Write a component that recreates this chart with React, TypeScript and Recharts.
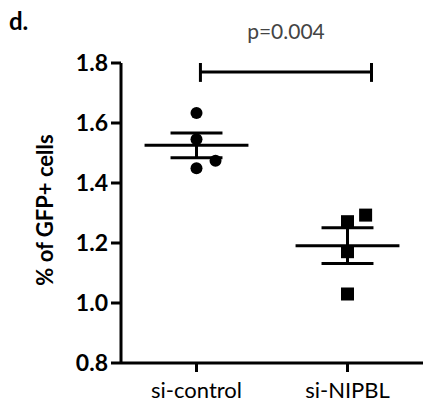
import { ComposedChart, Scatter, XAxis, YAxis, ReferenceLine } from 'recharts';

const GROUPS = ['si-control', 'si-NIPBL'];
const CONTROL_X = [1, 1, 1.126, 1];
const CONTROL_Y = [1.633, 1.546, 1.474, 1.449];
const NIPBL_X = [2.12, 2, 2, 2];
const NIPBL_Y = [1.293, 1.271, 1.171, 1.03];
const Y_TICKS = [0.8, 1.0, 1.2, 1.4, 1.6, 1.8];
const P_TEXT = 'p=0.004';
const SIG_BAR = { x1: 1.026, x2: 2.159, y: 1.77, capTop: 1.8, capBottom: 1.737 };

const FONT = 'Lato, "Open Sans", sans-serif';

const pts = (xs: number[], ys: number[]) => xs.map((x, i) => ({ x, y: ys[i] }));

function stats(ys: number[]) {
  const n = ys.length;
  const mean = ys.reduce((a, b) => a + b, 0) / n;
  const sd = Math.sqrt(ys.reduce((a, b) => a + (b - mean) ** 2, 0) / (n - 1));
  return { mean, sem: sd / Math.sqrt(n) };
}

const SUMMARY = [
  { pos: 1, ...stats(CONTROL_Y) },
  { pos: 2, ...stats(NIPBL_Y) },
];

const Dot = (p: any) => <circle cx={p.cx} cy={p.cy} r={6} fill="#000" />;
const Sq = (p: any) => <rect x={p.cx - 6.5} y={p.cy - 6.5} width={13} height={13} fill="#000" />;

const lineProps = { stroke: '#000', strokeWidth: 3, ifOverflow: 'visible' as const };

export default function App() {
  return (
    <div style={{ position: 'absolute', left: 0, top: 0, width: 424, height: 411, background: '#fff' }}>
      <div style={{ position: 'absolute', left: 9, top: 9, fontFamily: FONT, fontWeight: 700, fontSize: 24, lineHeight: '24px' }}>d.</div>
      <ComposedChart width={424} height={411} margin={{ top: 63, right: 1, bottom: 0, left: 0 }}>
        <XAxis
          type="number"
          dataKey="x"
          domain={[0.5, 2.5]}
          ticks={[1, 2]}
          tickFormatter={(v) => GROUPS[v - 1]}
          height={48}
          axisLine={{ stroke: '#000', strokeWidth: 3 }}
          tickLine={{ stroke: '#000', strokeWidth: 3 }}
          tickSize={9}
          tickMargin={10}
          tick={{ fill: '#000', fontSize: 22, fontFamily: FONT }}
          allowDataOverflow
        />
        <YAxis
          type="number"
          dataKey="y"
          domain={[0.8, 1.8]}
          ticks={Y_TICKS}
          tickFormatter={(v) => v.toFixed(1)}
          width={121}
          axisLine={{ stroke: '#000', strokeWidth: 3 }}
          tickLine={{ stroke: '#000', strokeWidth: 3 }}
          tickSize={10}
          tickMargin={3}
          tick={{ fill: '#000', fontSize: 23, fontWeight: 700, fontFamily: FONT }}
          label={{
            value: '% of GFP+ cells',
            angle: -90,
            position: 'insideLeft',
            offset: 45,
            dy: -3,
            style: { fill: '#000', fontSize: 22, fontWeight: 700, fontFamily: FONT, textAnchor: 'middle' },
          }}
        />
        {SUMMARY.map((s) => (
          <ReferenceLine key={'m' + s.pos} segment={[{ x: s.pos - 0.344, y: s.mean }, { x: s.pos + 0.344, y: s.mean }]} {...lineProps} />
        ))}
        {SUMMARY.map((s) => (
          <ReferenceLine key={'v' + s.pos} segment={[{ x: s.pos, y: s.mean - s.sem }, { x: s.pos, y: s.mean + s.sem }]} {...lineProps} />
        ))}
        {SUMMARY.map((s) => (
          <ReferenceLine key={'t' + s.pos} segment={[{ x: s.pos - 0.172, y: s.mean + s.sem }, { x: s.pos + 0.172, y: s.mean + s.sem }]} {...lineProps} />
        ))}
        {SUMMARY.map((s) => (
          <ReferenceLine key={'b' + s.pos} segment={[{ x: s.pos - 0.172, y: s.mean - s.sem }, { x: s.pos + 0.172, y: s.mean - s.sem }]} {...lineProps} />
        ))}
        <Scatter data={pts(CONTROL_X, CONTROL_Y)} shape={Dot} isAnimationActive={false} />
        <Scatter data={pts(NIPBL_X, NIPBL_Y)} shape={Sq} isAnimationActive={false} />
        <ReferenceLine
          segment={[{ x: SIG_BAR.x1, y: SIG_BAR.y }, { x: SIG_BAR.x2, y: SIG_BAR.y }]}
          {...lineProps}
          label={{ value: P_TEXT, position: 'top', offset: 33, fill: '#444', fontSize: 21, fontFamily: FONT }}
        />
        <ReferenceLine segment={[{ x: SIG_BAR.x1, y: SIG_BAR.capBottom }, { x: SIG_BAR.x1, y: SIG_BAR.capTop }]} {...lineProps} />
        <ReferenceLine segment={[{ x: SIG_BAR.x2, y: SIG_BAR.capBottom }, { x: SIG_BAR.x2, y: SIG_BAR.capTop }]} {...lineProps} />
      </ComposedChart>
    </div>
  );
}
